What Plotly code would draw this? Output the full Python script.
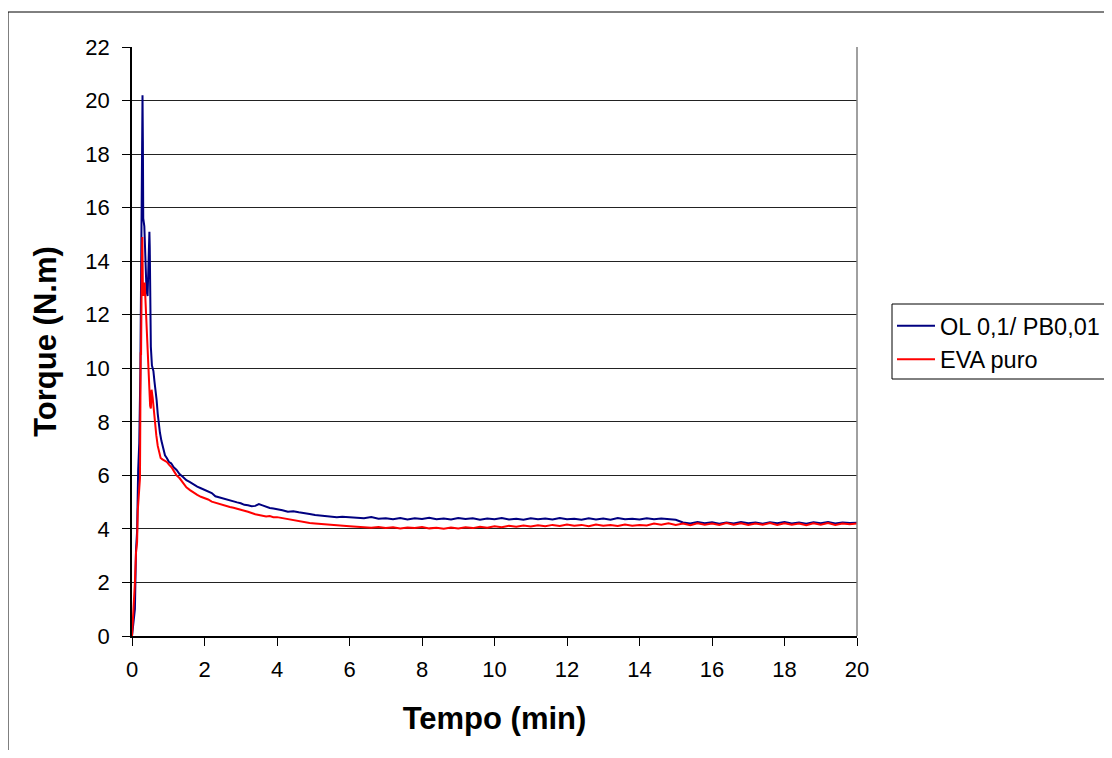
import plotly.graph_objects as go

# ---- data ----
blue_name = "OL 0,1/ PB0,01"
blue_t = [0, 0.03, 0.08, 0.11, 0.14, 0.17, 0.20, 0.23, 0.26, 0.28, 0.29, 0.30, 0.31, 0.34, 0.36, 0.38,
          0.40, 0.43, 0.46, 0.48, 0.49, 0.52, 0.55, 0.59, 0.62, 0.65, 0.68, 0.71, 0.74, 0.77, 0.81, 0.86,
          0.91, 0.96, 1.02, 1.08, 1.15, 1.23, 1.31, 1.40, 1.50, 1.60, 1.70, 1.80, 1.90, 2.00, 2.10, 2.20,
          2.30, 2.40, 2.50, 2.60, 2.70, 2.80, 2.90, 3.00, 3.10, 3.20, 3.30, 3.40, 3.50, 3.60, 3.70, 3.80,
          3.90, 4.00, 4.15, 4.30, 4.45, 4.60, 4.75, 4.90, 5.05, 5.20, 5.35, 5.50, 5.65, 5.80, 6.00, 6.20,
          6.40, 6.60, 6.80, 7.0, 7.2, 7.4, 7.6, 7.8, 8.0, 8.2, 8.4, 8.6, 8.8, 9.0, 9.2, 9.4, 9.6, 9.8,
          10.0, 10.2, 10.4, 10.6, 10.8, 11.0, 11.2, 11.4, 11.6, 11.8, 12.0, 12.2, 12.4, 12.6, 12.8, 13.0,
          13.2, 13.4, 13.6, 13.8, 14.0, 14.2, 14.4, 14.6, 14.8, 15.0, 15.2, 15.4, 15.6, 15.8, 16.0, 16.2,
          16.4, 16.6, 16.8, 17.0, 17.2, 17.4, 17.6, 17.8, 18.0, 18.2, 18.4, 18.6, 18.8, 19.0, 19.2, 19.4,
          19.6, 19.8, 20.0]
blue_v = [0, 0.5, 1.0, 3.2, 3.9, 6.2, 7.2, 9.8, 15.0, 20.0, 20.2, 18.5, 15.6, 15.3, 14.2, 13.4,
          12.9, 12.7, 14.2, 15.1, 14.5, 10.8, 10.1, 9.9, 9.5, 9.2, 8.8, 8.3, 7.9, 7.6, 7.3, 7.0,
          6.75, 6.65, 6.5, 6.45, 6.3, 6.2, 6.05, 5.95, 5.82, 5.75, 5.66, 5.58, 5.52, 5.45, 5.38, 5.34,
          5.22, 5.18, 5.14, 5.10, 5.05, 5.02, 4.99, 4.96, 4.90, 4.88, 4.85, 4.86, 4.93, 4.88, 4.82, 4.78,
          4.76, 4.74, 4.70, 4.64, 4.66, 4.62, 4.60, 4.56, 4.52, 4.50, 4.47, 4.46, 4.44, 4.45, 4.43, 4.42,
          4.40, 4.44, 4.38, 4.40, 4.36, 4.41, 4.35, 4.40, 4.37, 4.42, 4.36, 4.39, 4.35, 4.41, 4.37, 4.40,
          4.34, 4.39, 4.36, 4.41, 4.35, 4.38, 4.34, 4.40, 4.36, 4.39, 4.35, 4.41, 4.36, 4.38, 4.34, 4.40,
          4.35, 4.39, 4.34, 4.41, 4.36, 4.38, 4.35, 4.40, 4.36, 4.39, 4.37, 4.34, 4.24, 4.20, 4.26, 4.21,
          4.25, 4.19, 4.24, 4.20, 4.26, 4.21, 4.24, 4.19, 4.25, 4.21, 4.26, 4.20, 4.24, 4.19, 4.25, 4.21,
          4.26, 4.20, 4.24, 4.22, 4.23]

red_name = "EVA puro"
red_t = [0, 0.04, 0.08, 0.11, 0.14, 0.16, 0.19, 0.22, 0.24, 0.25, 0.27, 0.285, 0.30, 0.32, 0.35, 0.38,
         0.41, 0.44, 0.47, 0.50, 0.52, 0.54, 0.57, 0.60, 0.63, 0.67, 0.71, 0.75, 0.79, 0.84, 0.90, 0.96,
         1.02, 1.09, 1.16, 1.23, 1.31, 1.40, 1.50, 1.60, 1.70, 1.80, 1.90, 2.00, 2.10, 2.20, 2.30, 2.40,
         2.50, 2.60, 2.70, 2.80, 2.90, 3.00, 3.10, 3.20, 3.30, 3.40, 3.50, 3.60, 3.70, 3.80, 3.90, 4.00,
         4.15, 4.30, 4.45, 4.60, 4.75, 4.90, 5.05, 5.20, 5.35, 5.50, 5.65, 5.80, 6.00, 6.20, 6.40, 6.6,
         6.8, 7.0, 7.2, 7.4, 7.6, 7.8, 8.0, 8.2, 8.4, 8.6, 8.8, 9.0, 9.2, 9.4, 9.6, 9.8, 10.0, 10.2,
         10.4, 10.6, 10.8, 11.0, 11.2, 11.4, 11.6, 11.8, 12.0, 12.2, 12.4, 12.6, 12.8, 13.0, 13.2, 13.4,
         13.6, 13.8, 14.0, 14.2, 14.4, 14.6, 14.8, 15.0, 15.2, 15.4, 15.6, 15.8, 16.0, 16.2, 16.4, 16.6,
         16.8, 17.0, 17.2, 17.4, 17.6, 17.8, 18.0, 18.2, 18.4, 18.6, 18.8, 19.0, 19.2, 19.4, 19.6, 19.8,
         20.0]
red_v = [0, 0.9, 2.0, 3.1, 3.5, 4.7, 5.3, 5.9, 10.6, 10.5, 13.8, 14.9, 13.0, 12.7, 13.2, 12.3,
         11.5, 10.2, 9.2, 8.6, 8.5, 9.2, 8.9, 8.45, 7.95, 7.5, 7.1, 6.8, 6.65, 6.6, 6.55, 6.5,
         6.4, 6.3, 6.15, 6.0, 5.9, 5.75, 5.55, 5.45, 5.35, 5.27, 5.2, 5.15, 5.10, 5.02, 4.98, 4.92,
         4.88, 4.86, 4.82, 4.79, 4.76, 4.72, 4.68, 4.64, 4.58, 4.55, 4.52, 4.50, 4.46, 4.48, 4.44, 4.44,
         4.40, 4.36, 4.33, 4.30, 4.26, 4.22, 4.20, 4.18, 4.16, 4.15, 4.13, 4.12, 4.10, 4.08, 4.05, 4.04,
         4.07, 4.03, 4.06, 4.02, 4.05, 4.03, 4.07, 4.02, 4.04, 4.01, 4.05, 4.02, 4.06, 4.03, 4.08, 4.04, 4.10, 4.06,
         4.12, 4.08, 4.13, 4.09, 4.14, 4.10, 4.15, 4.11, 4.16, 4.12, 4.15, 4.10, 4.16, 4.12, 4.15, 4.11,
         4.16, 4.12, 4.15, 4.13, 4.20, 4.16, 4.21, 4.15, 4.20, 4.14, 4.21, 4.16, 4.20, 4.15, 4.22, 4.16,
         4.21, 4.15, 4.20, 4.16, 4.22, 4.15, 4.21, 4.16, 4.20, 4.14, 4.21, 4.16, 4.22, 4.15, 4.20, 4.17,
         4.20]

x_ticks = [0, 2, 4, 6, 8, 10, 12, 14, 16, 18, 20]
y_ticks = [0, 2, 4, 6, 8, 10, 12, 14, 16, 18, 20, 22]
x_title = "Tempo (min)"
y_title = "Torque (N.m)"

FONT = "Liberation Sans, Arial, sans-serif"

fig = go.Figure()
fig.add_trace(go.Scatter(x=blue_t, y=blue_v, mode="lines", name=blue_name,
                         line=dict(color="#000080", width=2)))
fig.add_trace(go.Scatter(x=red_t, y=red_v, mode="lines", name=red_name,
                         line=dict(color="#FF0000", width=2)))

# page has an 8px body margin; figure coords = page coords - 8
OFF = 8
W, H = 1112 - 2 * OFF, 758 - 2 * OFF
L, R, T, B = 132 - OFF, 857 - OFF, 47 - OFF, 636 - OFF

def px_x(p):
    return (p - OFF - L) / (R - L)

def px_y(p):
    return (B - (p - OFF)) / (B - T)

fig.update_layout(
    width=W, height=H,
    margin=dict(l=L, r=W - R, t=T, b=H - B, autoexpand=False),
    paper_bgcolor="white", plot_bgcolor="white",
    font=dict(family=FONT, color="black", size=22),
    showlegend=True,
    legend=dict(x=px_x(892), y=px_y(304), xanchor="left", yanchor="top",
                borderwidth=0, bgcolor="rgba(0,0,0,0)",
                font=dict(family=FONT, size=23.5, color="black"),
                itemwidth=38, tracegroupgap=0),
    xaxis=dict(range=[0, 20], tickvals=x_ticks, ticks="outside", ticklen=8, tickcolor="black",
               showline=True, linecolor="black", linewidth=1.5, mirror=False,
               showgrid=False, zeroline=False, ticklabelstandoff=5,
               tickfont=dict(family=FONT, size=22),
               title=dict(text=x_title, font=dict(family=FONT, size=31, weight="bold"), standoff=26)),
    yaxis=dict(range=[0, 22], tickvals=y_ticks, ticks="outside", ticklen=8, tickcolor="black",
               showline=True, linecolor="black", linewidth=1.5, mirror=False,
               showgrid=True, gridcolor="#222222", gridwidth=1, zeroline=False, ticklabelstandoff=8,
               tickfont=dict(family=FONT, size=22),
               title=dict(text=y_title, font=dict(family=FONT, size=31, weight="bold"), standoff=20)),
    shapes=[
        # right border of plot area
        dict(type="line", xref="paper", yref="paper", x0=1, x1=1, y0=0, y1=1,
             line=dict(color="#808080", width=1.5)),
        # outer chart frame (cropped at the right and bottom)
        dict(type="rect", xref="paper", yref="paper",
             x0=px_x(8), x1=px_x(1130),
             y0=px_y(780), y1=px_y(12),
             line=dict(color="black", width=1), fillcolor="rgba(0,0,0,0)", layer="below"),
        # legend box (runs past the right edge in the reference)
        dict(type="rect", xref="paper", yref="paper",
             x0=px_x(892), x1=px_x(1130),
             y0=px_y(379), y1=px_y(304),
             line=dict(color="black", width=1), fillcolor="white", layer="below"),
    ],
)

fig.write_html("out.html")
